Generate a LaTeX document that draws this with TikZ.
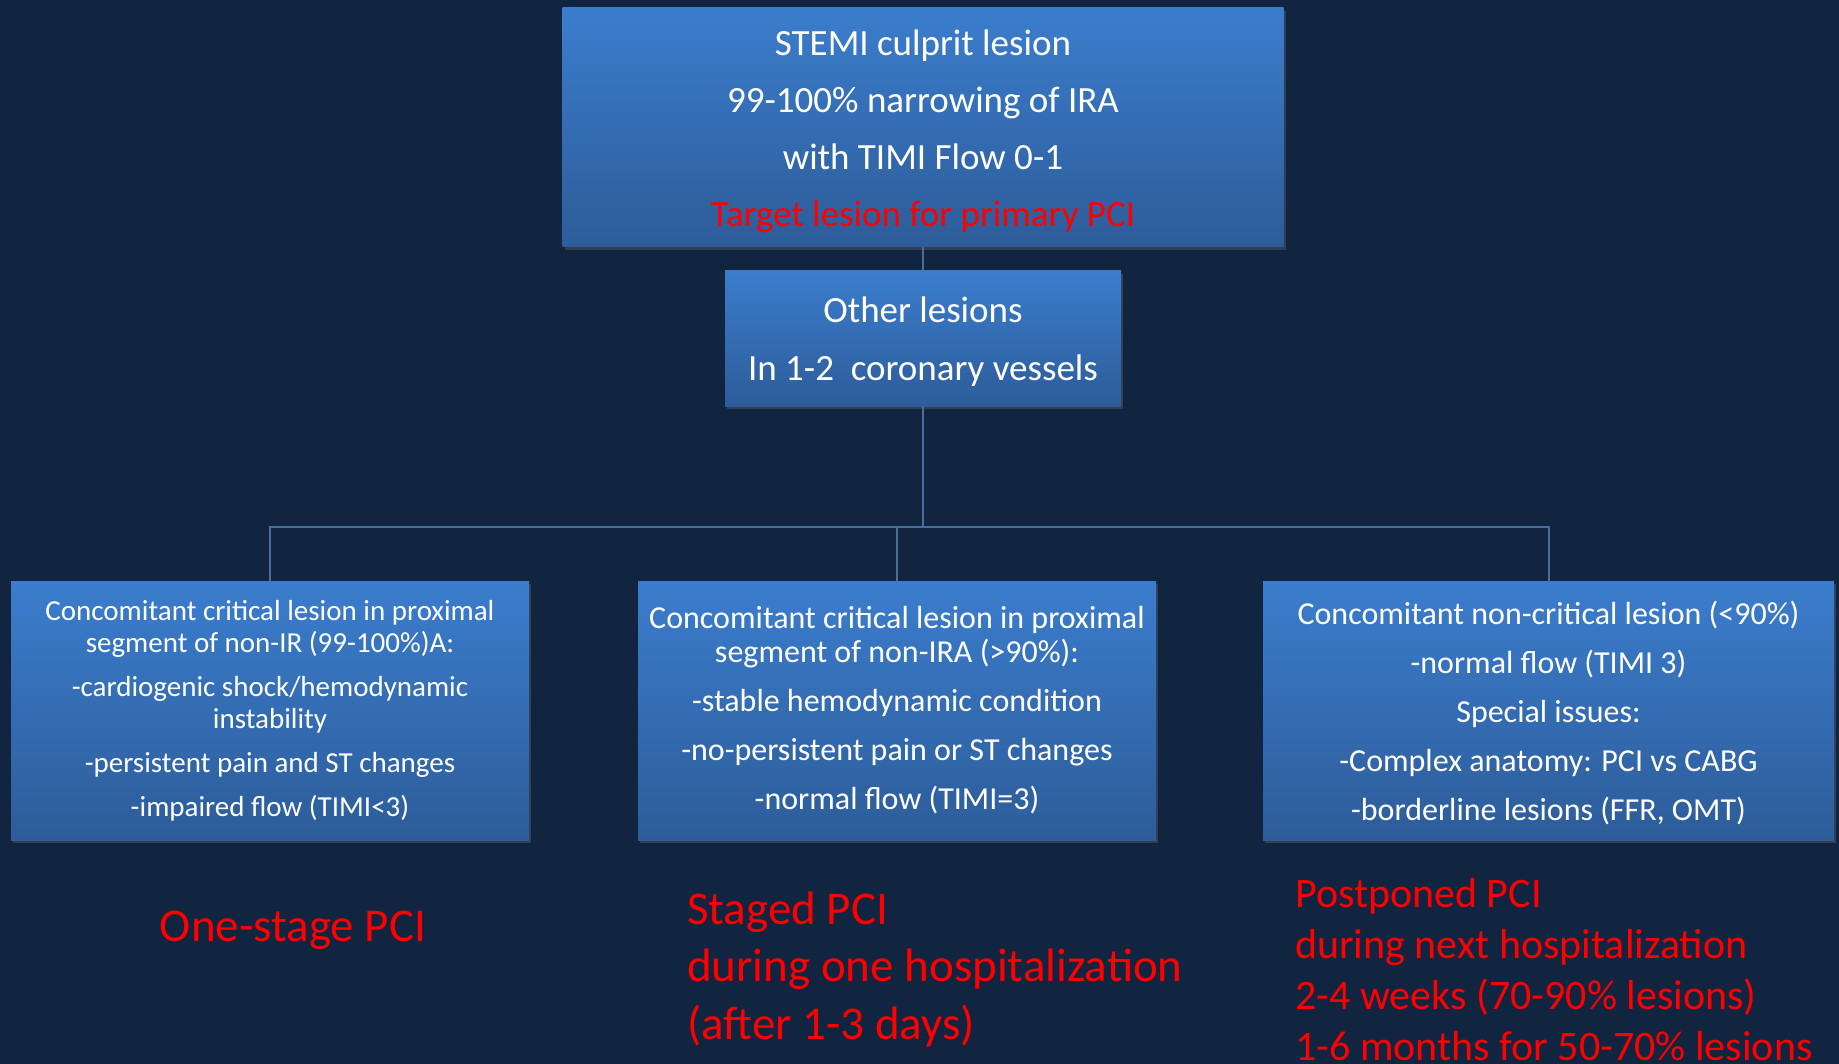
\documentclass[tikz,border=0pt]{standalone}
\usepackage{fontspec}
\setmainfont{Carlito}
\usetikzlibrary{shadows}
\definecolor{bgnavy}{RGB}{17,36,64}
\definecolor{boxtop}{RGB}{59,125,205}
\definecolor{boxbot}{RGB}{45,92,153}
\definecolor{linkblue}{RGB}{74,110,152}
\definecolor{pcired}{RGB}{255,0,0}

\begin{document}
\begin{tikzpicture}[x=1pt,y=-1pt,
    box/.style={rectangle, top color=boxtop, bottom color=boxbot, draw=none, text=white, align=center, inner sep=0pt,
      drop shadow={opacity=0.3, shadow xshift=2pt, shadow yshift=-3pt}},
    link/.style={linkblue, line width=2pt},
    plan/.style={text=pcired, inner sep=0pt}]
      \useasboundingbox (0,0) rectangle (1839,1064);
      \fill[bgnavy] (0,0) rectangle (1839,1064);

      \node[box, minimum width=721pt, minimum height=239pt, font=\fontsize{37}{57}\selectfont] (stemi) at (923,127.5)
        {\rule{0pt}{34pt}STEMI culprit lesion\\99-100\% narrowing of IRA\\with TIMI Flow 0-1\\\textcolor{pcired}{Target lesion for primary PCI}};
      \node[box, minimum width=396pt, minimum height=135pt, font=\fontsize{37}{58}\selectfont] (other) at (923,338.5)
        {\rule{0pt}{31pt}Other lesions\\In 1-2\ \ coronary vessels};

      \node[box, minimum width=518pt, minimum height=259pt, font=\fontsize{29}{32}\selectfont] (crit) at (270,710.5)
        {Concomitant critical lesion in proximal\\segment of non-IR (99-100\%)A:\\[12pt]-cardiogenic shock/hemodynamic\\instability\\[12pt]-persistent pain and ST changes\\[12pt]-impaired flow (TIMI<3)};
      \node[box, minimum width=518pt, minimum height=259pt, font=\fontsize{32}{34}\selectfont] (stable) at (897,710.5)
        {Concomitant critical lesion in proximal\\segment of non-IRA (>90\%):\\[15pt]-stable hemodynamic condition\\[15pt]-no-persistent pain or ST changes\\[15pt]-normal flow (TIMI=3)};
      \node[box, minimum width=571pt, minimum height=259pt, font=\fontsize{32}{49}\selectfont] (noncrit) at (1548.5,710.5)
        {\rule{0pt}{29pt}Concomitant non-critical lesion (<90\%)\\-normal flow (TIMI 3)\\Special issues:\\-Complex anatomy: PCI vs CABG\\-borderline lesions (FFR, OMT)};

      \coordinate (hub) at (923,527);
      \draw[link] (stemi.south) -- (other.north);
      \draw[link] (other.south) -- (hub);
      \draw[link] (hub) -| (crit);
      \draw[link] (hub) -| (stable);
      \draw[link] (hub) -| (noncrit);

      \node[plan, font=\fontsize{47}{57}\selectfont] (onestage) at (293,930) {One-stage PCI};
      \node[plan, anchor=west, align=left, font=\fontsize{47}{57.5}\selectfont] (staged) at (687,969)
        {Staged PCI\\during one hospitalization\\(after 1-3 days)};
      \node[plan, anchor=west, align=left, font=\fontsize{42}{51}\selectfont] (postponed) at (1295,970)
        {Postponed PCI\\during next hospitalization\\2-4 weeks (70-90\% lesions)\\1-6 months for 50-70\% lesions};
    \end{tikzpicture}
\end{document}
